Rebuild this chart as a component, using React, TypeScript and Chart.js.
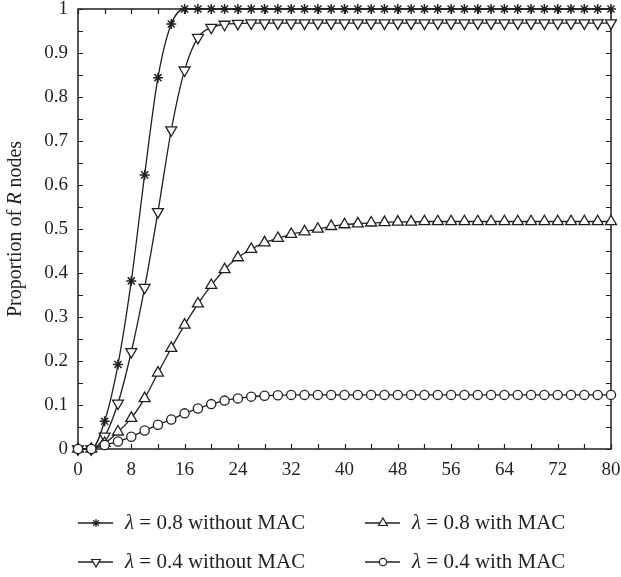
import React, { useEffect, useRef } from "react";
import { Chart, registerables } from "chart.js";
import { drawPoint } from "chart.js/helpers";

Chart.register(...registerables);

const xValues = [0, 2, 4, 6, 8, 10, 12, 14, 16, 18, 20, 22, 24, 26, 28, 30, 32, 34, 36, 38, 40, 42, 44, 46, 48, 50, 52, 54, 56, 58, 60, 62, 64, 66, 68, 70, 72, 74, 76, 78, 80];

const l08NoMac = [0, 0, 0.063, 0.192, 0.382, 0.623, 0.844, 0.966, 1, 1, 1, 1, 1, 1, 1, 1, 1, 1, 1, 1, 1, 1, 1, 1, 1, 1, 1, 1, 1, 1, 1, 1, 1, 1, 1, 1, 1, 1, 1, 1, 1];
const l04NoMac = [0, 0, 0.029, 0.104, 0.221, 0.367, 0.539, 0.725, 0.861, 0.935, 0.958, 0.965, 0.967, 0.968, 0.968, 0.968, 0.968, 0.968, 0.968, 0.968, 0.968, 0.968, 0.968, 0.968, 0.968, 0.968, 0.968, 0.968, 0.968, 0.968, 0.968, 0.968, 0.968, 0.968, 0.968, 0.968, 0.968, 0.968, 0.968, 0.968, 0.968];
const l08Mac = [0, 0, 0.013, 0.039, 0.07, 0.115, 0.173, 0.229, 0.282, 0.33, 0.372, 0.408, 0.435, 0.454, 0.469, 0.479, 0.488, 0.494, 0.5, 0.506, 0.51, 0.512, 0.514, 0.515, 0.516, 0.516, 0.517, 0.517, 0.517, 0.517, 0.517, 0.517, 0.517, 0.517, 0.517, 0.517, 0.517, 0.517, 0.517, 0.517, 0.517];
const l04Mac = [0, 0, 0.009, 0.017, 0.028, 0.042, 0.055, 0.067, 0.081, 0.092, 0.102, 0.11, 0.115, 0.119, 0.121, 0.122, 0.123, 0.123, 0.123, 0.123, 0.123, 0.123, 0.123, 0.123, 0.123, 0.123, 0.123, 0.123, 0.123, 0.123, 0.123, 0.123, 0.123, 0.123, 0.123, 0.123, 0.123, 0.123, 0.123, 0.123, 0.123];

const seriesLambda = ["0.8", "0.4", "0.8", "0.4"];
const seriesSuffix = ["without MAC", "without MAC", "with MAC", "with MAC"];

const FONT = '"Liberation Serif", "Times New Roman", serif';
const INK = "#231f20";

const markerStyles = [
  { pointStyle: "star", radius: 5, rotation: 0 },
  { pointStyle: "triangle", radius: 6.3, rotation: 180 },
  { pointStyle: "triangle", radius: 6.3, rotation: 0 },
  { pointStyle: "circle", radius: 4.6, rotation: 0 },
];

const framePlugin = {
  id: "frame",
  beforeDatasetsDraw(chart: any) {
    const { ctx, chartArea } = chart;
    const { left, right, top, bottom } = chartArea;
    ctx.save();
    ctx.strokeStyle = INK;
    ctx.lineWidth = 1.5;
    ctx.strokeRect(left, top, right - left, bottom - top);
    ctx.lineWidth = 1.2;
    const xs = chart.scales.x;
    xs.ticks.forEach((t: any) => {
      const px = Math.round(xs.getPixelForValue(t.value)) + 0.5;
      ctx.beginPath();
      ctx.moveTo(px, bottom);
      ctx.lineTo(px, bottom - 5);
      ctx.moveTo(px, top);
      ctx.lineTo(px, top + 5);
      ctx.stroke();
    });
    const ys = chart.scales.y;
    ys.ticks.forEach((t: any) => {
      const py = Math.round(ys.getPixelForValue(t.value)) + 0.5;
      ctx.beginPath();
      ctx.moveTo(left, py);
      ctx.lineTo(left + 5, py);
      ctx.moveTo(right, py);
      ctx.lineTo(right - 5, py);
      ctx.stroke();
    });
    ctx.restore();
  },
  afterDraw(chart: any) {
    const { ctx, chartArea } = chart;
    ctx.save();
    // y-axis title
    const cy = (chartArea.top + chartArea.bottom) / 2;
    ctx.translate(16, cy);
    ctx.rotate(-Math.PI / 2);
    ctx.fillStyle = INK;
    ctx.textBaseline = "middle";
    const parts = [
      { t: "Proportion of ", f: `20px ${FONT}` },
      { t: "R", f: `italic 20px ${FONT}` },
      { t: " nodes", f: `20px ${FONT}` },
    ];
    let total = 0;
    parts.forEach((p) => {
      ctx.font = p.f;
      total += ctx.measureText(p.t).width;
    });
    let x = -total / 2;
    parts.forEach((p) => {
      ctx.font = p.f;
      ctx.textAlign = "left";
      ctx.fillText(p.t, x, 0);
      x += ctx.measureText(p.t).width;
    });
    ctx.restore();

    // legend
    const cols = [78, 365];
    const rows = [523, 562];
    const order = [0, 2, 1, 3];
    order.forEach((di, k) => {
      const col = k % 2;
      const row = Math.floor(k / 2);
      const lx = cols[col];
      const ly = rows[row];
      ctx.save();
      ctx.strokeStyle = INK;
      ctx.lineWidth = 1.3;
      ctx.beginPath();
      ctx.moveTo(lx, ly);
      ctx.lineTo(lx + 35, ly);
      ctx.stroke();
      const ms = markerStyles[di];
      ctx.fillStyle = "#ffffff";
      ctx.lineWidth = 1.2;
      drawPoint(ctx, { pointStyle: ms.pointStyle, radius: ms.radius * 0.8, rotation: ms.rotation, borderWidth: 1.2 } as any, lx + 18, ly);
      ctx.fillStyle = INK;
      ctx.textBaseline = "middle";
      ctx.textAlign = "left";
      let tx = lx + 47;
      ctx.font = `italic 21px ${FONT}`;
      ctx.fillText("\u03bb", tx, ly);
      tx += ctx.measureText("\u03bb").width;
      ctx.font = `21px ${FONT}`;
      ctx.fillText(` = ${seriesLambda[di]} ${seriesSuffix[di]}`, tx, ly);
      ctx.restore();
    });
  },
};

export default function App() {
  const ref = useRef<HTMLCanvasElement | null>(null);
  useEffect(() => {
    if (!ref.current) return;
    const all = [l08NoMac, l04NoMac, l08Mac, l04Mac];
    const datasets = all.map((vals, i) => ({
      label: `λ = ${seriesLambda[i]} ${seriesSuffix[i]}`,
      data: xValues.map((x, j) => ({ x, y: vals[j] })),
      borderColor: INK,
      backgroundColor: "#ffffff",
      borderWidth: 1.3,
      pointBorderColor: INK,
      pointBackgroundColor: "#ffffff",
      pointBorderWidth: i === 0 ? 1.5 : 1.3,
      pointStyle: markerStyles[i].pointStyle as any,
      pointRadius: markerStyles[i].radius,
      pointRotation: markerStyles[i].rotation,
      cubicInterpolationMode: "monotone" as const,
      clip: false as any,
      order: 3 - i,
    }));
    const chart = new Chart(ref.current, {
      type: "line",
      data: { datasets },
      options: {
        responsive: false,
        animation: false,
        layout: { padding: { top: 9, right: 10, left: 0, bottom: 0 } },
        plugins: { legend: { display: false }, tooltip: { enabled: false } },
        scales: {
          x: {
            type: "linear",
            min: 0,
            max: 80,
            grid: { display: false, drawTicks: false },
            border: { display: false },
            afterFit: (s: any) => {
              s.height = 128;
              s.paddingLeft = 0;
              s.paddingRight = 0;
            },
            ticks: {
              stepSize: 4,
              autoSkip: false,
              maxRotation: 0,
              padding: 12,
              color: INK,
              font: { family: FONT, size: 19, lineHeight: 1 },
              callback: (v: any) => (Math.round(v) % 8 === 0 ? String(Math.round(v)) : ""),
            },
          },
          y: {
            type: "linear",
            min: 0,
            max: 1,
            grid: { display: false, drawTicks: false },
            border: { display: false },
            afterFit: (s: any) => {
              s.width = 78;
              s.paddingTop = 0;
              s.paddingBottom = 0;
            },
            ticks: {
              stepSize: 0.05,
              autoSkip: false,
              padding: 10,
              color: INK,
              font: { family: FONT, size: 19, lineHeight: 1 },
              callback: (v: any) => {
                const r = Math.round(v * 100);
                return r % 10 === 0 ? String(r / 100) : "";
              },
            },
          },
        },
      },
      plugins: [framePlugin],
    });
    return () => chart.destroy();
  }, []);
  return (
    <div style={{ position: "absolute", left: 0, top: 0, width: 621, height: 577, background: "#fff" }}>
      <canvas ref={ref} width={621} height={577} style={{ width: 621, height: 577, display: "block" }} />
    </div>
  );
}
